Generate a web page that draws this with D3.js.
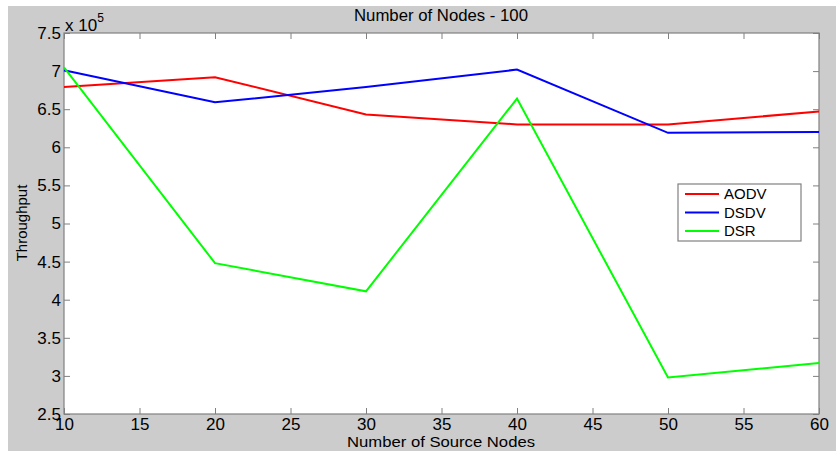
<!DOCTYPE html>
<html><head><meta charset="utf-8">
<script src="https://cdn.jsdelivr.net/npm/d3@7"></script>
<style>body{margin:0;background:#fff}svg{display:block}text{font-family:"Liberation Sans",Arial,sans-serif;fill:#000}</style>
</head><body><svg id="c" width="836" height="451"></svg>
<script>
const sourceNodes = [10, 20, 30, 40, 50, 60];
const aodv = [6.79, 6.92, 6.43, 6.30, 6.30, 6.47];
const dsdv = [7.01, 6.59, 6.79, 7.02, 6.19, 6.20];
const dsr  = [7.05, 4.48, 4.11, 6.64, 2.98, 3.17];
const seriesNames = ["AODV", "DSDV", "DSR"];
const seriesColors = ["#ff0000", "#0000ff", "#00ff00"];
const xTicks = [10, 15, 20, 25, 30, 35, 40, 45, 50, 55, 60];
const yTicks = [2.5, 3, 3.5, 4, 4.5, 5, 5.5, 6, 6.5, 7, 7.5];

const svg = d3.select("#c");
const L = 64, R = 819, T = 33, B = 414;
svg.append("rect").attr("x", 8).attr("y", 6).attr("width", 828).attr("height", 445).attr("fill", "#cccccc");
svg.append("rect").attr("x", L).attr("y", T).attr("width", R - L).attr("height", B - T).attr("fill", "#fff");

const x = d3.scaleLinear().domain([10, 60]).range([L, R]);
const y = d3.scaleLinear().domain([2.5, 7.5]).range([B, T]);
const axisColor = "#808080";

function styleAxis(g, labels) {
  g.select(".domain").remove();
  g.selectAll(".tick line").attr("stroke", axisColor);
  if (!labels) g.selectAll(".tick text").remove();
  else g.selectAll(".tick text").attr("font-size", 17).attr("fill", "#000");
}
svg.append("g").attr("transform", `translate(0,${B})`)
  .call(d3.axisBottom(x).tickValues(xTicks).tickSize(-6).tickPadding(4).tickFormat(d3.format("d")))
  .call(g => styleAxis(g, true));
svg.append("g").attr("transform", `translate(0,${T})`)
  .call(d3.axisTop(x).tickValues(xTicks).tickSize(-6)).call(g => styleAxis(g, false));
svg.append("g").attr("transform", `translate(${L},0)`)
  .call(d3.axisLeft(y).tickValues(yTicks).tickSize(-6).tickPadding(3).tickFormat(d => String(d)))
  .call(g => styleAxis(g, true));
svg.append("g").attr("transform", `translate(${R},0)`)
  .call(d3.axisRight(y).tickValues(yTicks).tickSize(-6)).call(g => styleAxis(g, false));

// frame
svg.append("rect").attr("x", L).attr("y", T).attr("width", R - L).attr("height", B - T)
  .attr("fill", "none").attr("stroke", axisColor).attr("stroke-width", 1.2);

const line = d3.line().x((d, i) => x(sourceNodes[i])).y(d => y(d));
[aodv, dsdv, dsr].forEach((s, k) => {
  svg.append("path").datum(s).attr("d", line).attr("fill", "none")
    .attr("stroke", seriesColors[k]).attr("stroke-width", 2);
});

// exponent
const ex = svg.append("text").attr("x", 65).attr("y", 31).attr("font-size", 17);
ex.append("tspan").text("x 10");
ex.append("tspan").attr("font-size", 12).attr("dy", -9).text("5");

svg.append("text").attr("x", 441).attr("y", 21).attr("text-anchor", "middle").attr("font-size", 16)
  .attr("textLength", 174).attr("lengthAdjust", "spacingAndGlyphs")
  .text("Number of Nodes - 100");
svg.append("text").attr("x", 441).attr("y", 447).attr("text-anchor", "middle").attr("font-size", 14.5)
  .attr("textLength", 188).attr("lengthAdjust", "spacingAndGlyphs")
  .text("Number of Source Nodes");
svg.append("text").attr("transform", "translate(27,223) rotate(-90)").attr("text-anchor", "middle")
  .attr("font-size", 15).text("Throughput");

// legend
const lg = svg.append("g");
lg.append("rect").attr("x", 678).attr("y", 184).attr("width", 123).attr("height", 57)
  .attr("fill", "#fff").attr("stroke", axisColor).attr("stroke-width", 1.2);
seriesNames.forEach((n, i) => {
  const yy = 194 + i * 18.5;
  lg.append("line").attr("x1", 685).attr("x2", 719).attr("y1", yy).attr("y2", yy)
    .attr("stroke", seriesColors[i]).attr("stroke-width", 2);
  lg.append("text").attr("x", 724).attr("y", yy + 5).attr("font-size", 15).text(n);
});
</script></body></html>
